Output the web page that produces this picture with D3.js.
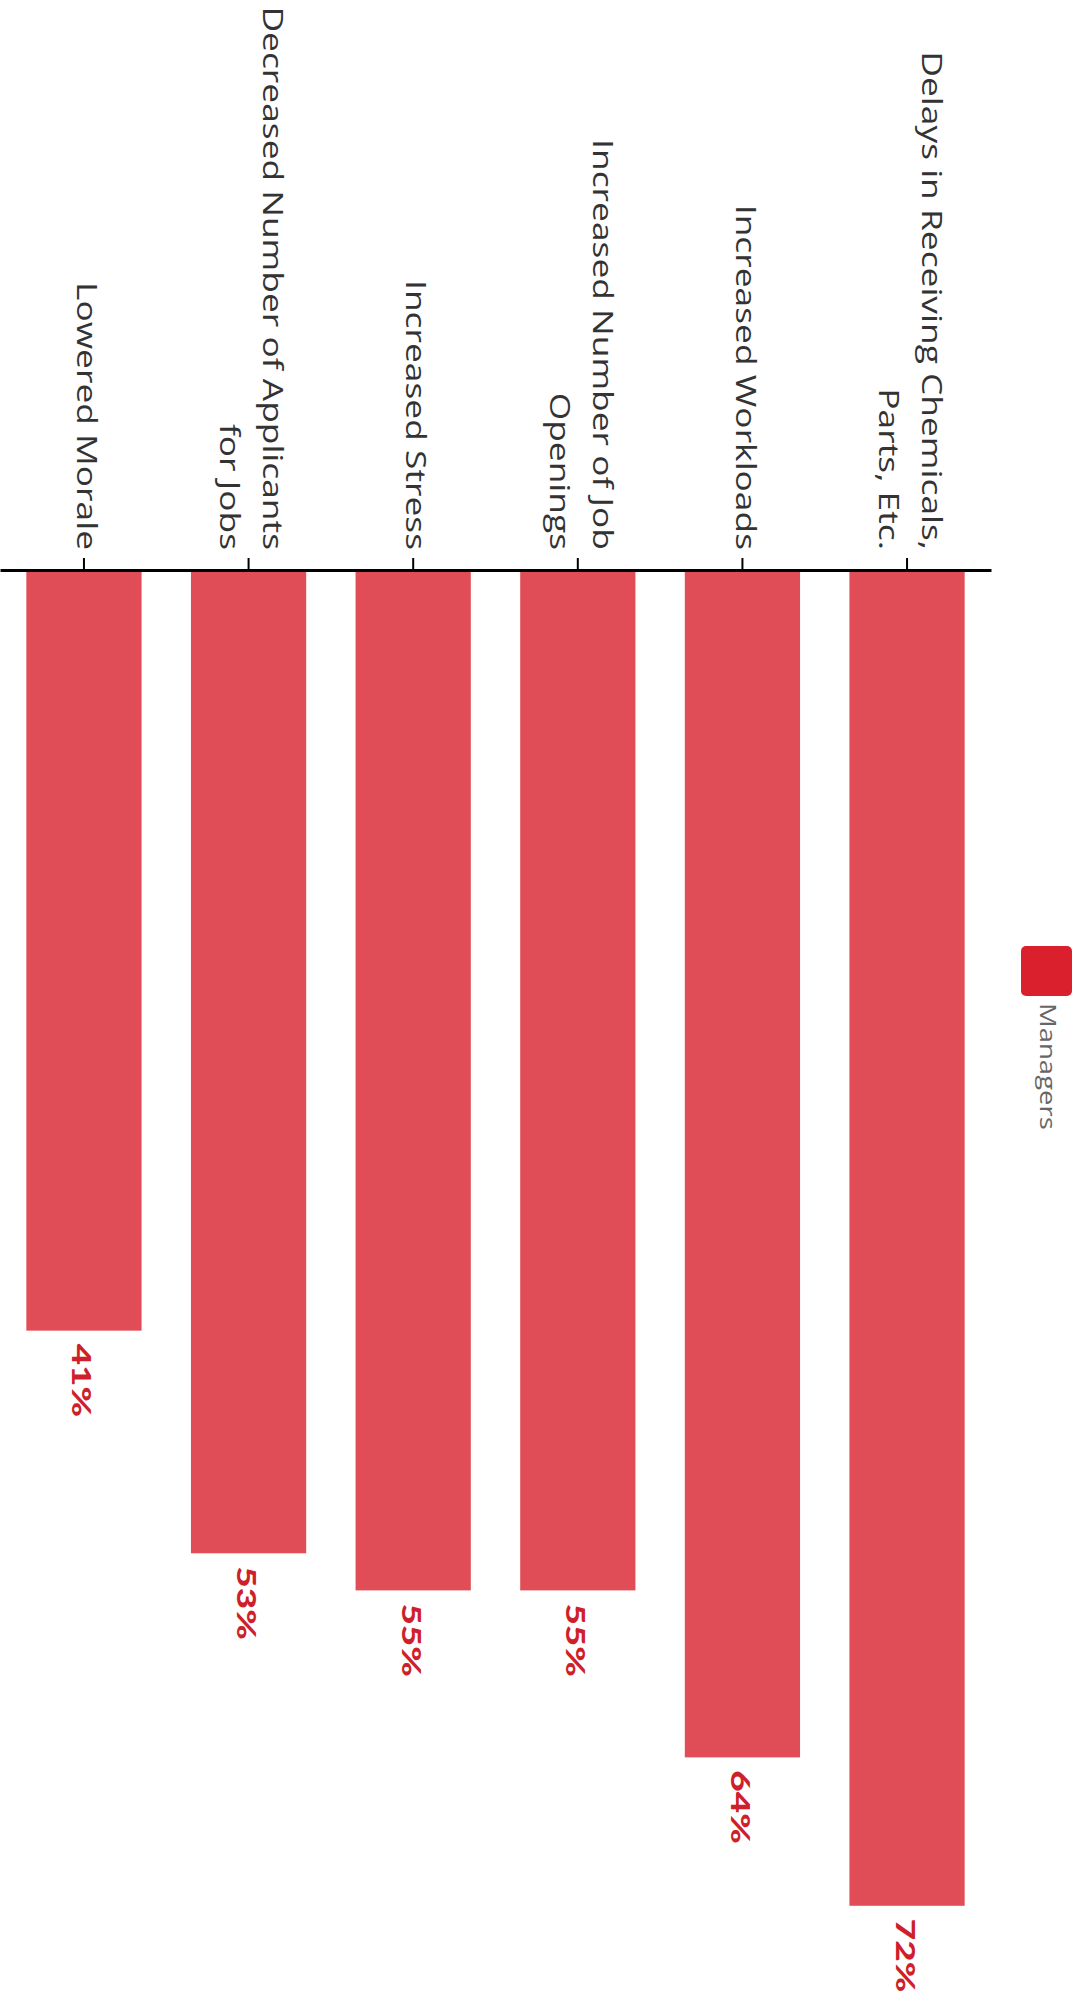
<!DOCTYPE html>
<html>
<head>
<meta charset="utf-8">
<script src="https://cdn.jsdelivr.net/npm/d3@7"></script>
<style>
  html, body { margin: 0; padding: 0; background: #fff; }
  svg { display: block; }
</style>
</head>
<body>
<svg id="chart" width="1081" height="2005"></svg>
<script>
// Survey effects reported by managers (percent of respondents)
const categories = [
  "Lowered Morale",
  "Decreased Number of Applicants for Jobs",
  "Increased Stress",
  "Increased Number of Job Openings",
  "Increased Workloads",
  "Delays in Receiving Chemicals, Parts, Etc."
];
const categoryLines = [
  ["Lowered Morale"],
  ["Decreased Number of Applicants", "for Jobs"],
  ["Increased Stress"],
  ["Increased Number of Job", "Openings"],
  ["Increased Workloads"],
  ["Delays in Receiving Chemicals,", "Parts, Etc."]
];
const managersValues = [41, 53, 55, 55, 64, 72];
const seriesName = "Managers";

const svg = d3.select("#chart");
const baseColor = "#d9202c";
const labelFont = "'Open Sans', 'Noto Sans', sans-serif";
const valueFont = "Lato, 'Open Sans', sans-serif";
// Text runs along the tall page axis and is drawn a little elongated
const labelStretch = 1.31;
const valueStretch = 1.37;

const axisY = 570;

// Categories run left to right, values grow downward from the axis.
const x = d3.scaleBand()
  .domain(categories)
  .range([0, 991])
  .paddingInner(0.3)
  .paddingOuter(0.16);

const y = d3.scaleLinear()
  .domain([0, 76])
  .range([axisY, axisY + 1410]);

const data = categories.map((c, i) => ({ cat: c, lines: categoryLines[i], value: managersValues[i] }));

// Bars
svg.append("g")
  .selectAll("rect")
  .data(data)
  .join("rect")
  .attr("x", d => x(d.cat))
  .attr("width", x.bandwidth())
  .attr("y", y(0))
  .attr("height", d => y(d.value) - y(0))
  .attr("fill", baseColor)
  .attr("fill-opacity", 0.8);

// Category axis
const axis = d3.axisTop(x).tickSize(12).tickSizeOuter(0).tickFormat("");
const gAxis = svg.append("g")
  .attr("transform", `translate(0,${axisY})`)
  .call(axis);
gAxis.select(".domain").attr("stroke", "#000").attr("stroke-width", 3);
gAxis.selectAll(".tick line").attr("stroke", "#000").attr("stroke-width", 2);

// Category labels, rotated to read downward and ending just above the ticks
const lineH = 43;
const labels = svg.append("g")
  .selectAll("text")
  .data(data)
  .join("text")
  .attr("transform", d => `translate(${x(d.cat) + x.bandwidth() / 2},${axisY - 20}) rotate(90) scale(${labelStretch},1)`)
  .attr("text-anchor", "end")
  .attr("font-family", labelFont)
  .attr("font-size", 27)
  .attr("fill", "#333");

labels.each(function (d) {
  const t = d3.select(this);
  const n = d.lines.length;
  d.lines.forEach((line, j) => {
    t.append("tspan")
      .attr("x", 0)
      .attr("y", (j - (n - 1) / 2) * lineH)
      .attr("dy", "0.25em")
      .text(line);
  });
});

// Value labels below each bar
svg.append("g")
  .selectAll("text")
  .data(data)
  .join("text")
  .attr("transform", d => `translate(${x(d.cat) + x.bandwidth() / 2 - 2},${y(d.value) + 13}) rotate(90) scale(${valueStretch},1)`)
  .attr("text-anchor", "start")
  .attr("dy", "0.35em")
  .attr("font-family", valueFont)
  .attr("font-weight", 900)
  .attr("font-size", 27)
  .attr("fill", "#cf1f2b")
  .text(d => d.value + "%");

// Legend
const legend = svg.append("g").attr("transform", "translate(1021,946)");
legend.append("rect")
  .attr("width", 51)
  .attr("height", 50)
  .attr("rx", 5)
  .attr("fill", baseColor);
legend.append("text")
  .attr("transform", `translate(27,57) rotate(90) scale(1.25,1)`)
  .attr("text-anchor", "start")
  .attr("dy", "0.35em")
  .attr("font-family", labelFont)
  .attr("font-size", 22)
  .attr("fill", "#666")
  .text(seriesName);
</script>
</body>
</html>
